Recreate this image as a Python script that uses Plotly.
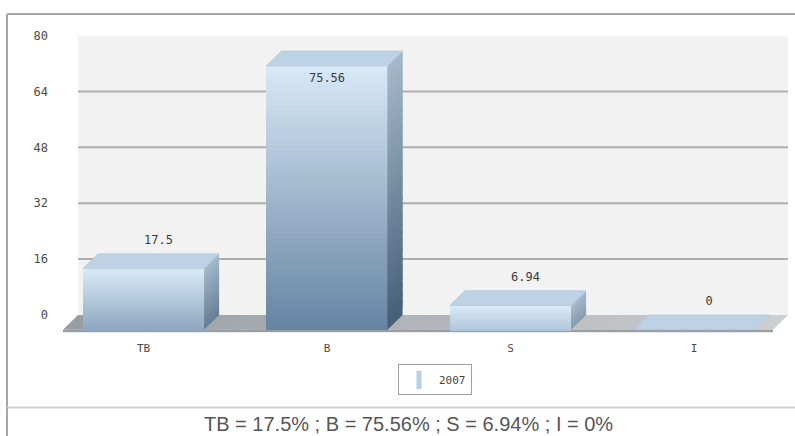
import math
import plotly.graph_objects as go

# ---------------- data ----------------
categories = ["TB", "B", "S", "I"]
values_2007 = [17.5, 75.56, 6.94, 0]
y_ticks = [0, 16, 32, 48, 64, 80]
series_name = "2007"
caption = "TB = 17.5% ; B = 75.56% ; S = 6.94% ; I = 0%"

# ---------------- geometry / style ----------------
W, H = 795, 436
CAT_PX = 183.5          # px between categories
CAT0_PX = 143.5         # px of first category (front face centre)
UNIT_PX = 3.55          # px per value unit
ZERO_PX = 313           # px of value 0 on back plane
DEPTH_PX = 15
DX = DEPTH_PX / CAT_PX
DY = DEPTH_PX / UNIT_PX
BAR_W = 0.66
X_LEFT_PX = 60
Y_TOP_PX = 29
Y_BOT_PX = 331
FLOOR_L = -0.357
FLOOR_R = 3.512
FLOOR_T = 0.7
N_SEG = 60
N_SIDE = 30
OVL = 1.8

MONO = "DejaVu Sans Mono"
TXT = "#4a4a4a"

FRONT_TOP = (216, 233, 247)
FRONT_DARK = (100, 130, 160)
SIDE_TOP = (165, 185, 203)
SIDE_DARK = (68, 92, 118)
TOP_FACE = "#bdd2e5"


def mix(c1, c2, t):
    return "rgb(%d,%d,%d)" % tuple(round(a + (b - a) * t) for a, b in zip(c1, c2))


x_range = [(X_LEFT_PX - CAT0_PX) / CAT_PX, (W - CAT0_PX) / CAT_PX]
y_range = [(ZERO_PX - Y_BOT_PX) / UNIT_PX, y_ticks[-1]]

fig = go.Figure()
xs = list(range(len(categories)))

# darkness at bottom of each bar depends on its pixel height
bottom_f = [1 - math.exp(-(v * UNIT_PX + 0.1) / 60) for v in values_2007]

# front faces (vertical gradient via stacked, overlapping segments)
for k in range(N_SEG):
    t = 1 - (k + 0.5) / N_SEG
    fig.add_trace(go.Bar(
        x=xs,
        base=[-DY + v * k / N_SEG for v in values_2007],
        y=[min(v / N_SEG * OVL, v * (N_SEG - k) / N_SEG) for v in values_2007],
        width=BAR_W,
        marker=dict(color=[mix(FRONT_TOP, FRONT_DARK, t * f) for f in bottom_f],
                    line=dict(width=0)),
        showlegend=False, hoverinfo="skip",
    ))

# side faces
for i, v in enumerate(values_2007):
    xr = i + BAR_W / 2
    for k in range(N_SIDE):
        b0 = -DY + v * k / N_SIDE
        b1 = min(-DY + v * (k + OVL) / N_SIDE, v - DY)
        t = 1 - (k + 0.5) / N_SIDE
        col = mix(SIDE_TOP, SIDE_DARK, t * bottom_f[i])
        fig.add_trace(go.Scatter(
            x=[xr, xr + DX, xr + DX, xr, xr],
            y=[b0, b0 + DY, b1 + DY, b1, b0],
            mode="lines", fill="toself", fillcolor=col,
            line=dict(width=0, color=col),
            showlegend=False, hoverinfo="skip",
        ))

# top faces
for i, v in enumerate(values_2007):
    xl, xr = i - BAR_W / 2, i + BAR_W / 2
    fig.add_trace(go.Scatter(
        x=[xl, xr, xr + DX, xl + DX, xl],
        y=[v - DY, v - DY, v, v, v - DY],
        mode="lines", fill="toself", fillcolor=TOP_FACE,
        line=dict(width=0.6, color="#a9bfd2"),
        showlegend=False, hoverinfo="skip",
    ))

# value labels
lx, ly = [], []
for i, v in enumerate(values_2007):
    if v + 3.6 + 3 > y_ticks[-1]:
        lx.append(i)
        ly.append(v - DY - 3.9)
    else:
        lx.append(i + DX)
        ly.append(v + 3.6)
fig.add_trace(go.Scatter(
    x=lx, y=ly, mode="text",
    text=[("%g" % v) for v in values_2007],
    textfont=dict(family=MONO, size=12, color="#3c3c3c"),
    showlegend=False, hoverinfo="skip",
))

# legend entry
fig.add_trace(go.Scatter(
    x=[None], y=[None], mode="markers", name=series_name,
    marker=dict(symbol="line-ns", size=13, color="#b5d0e8",
                line=dict(width=5, color="#b5d0e8")),
))

# ---------------- shapes ----------------
shapes = []
# plot background (back wall)
shapes.append(dict(type="rect", xref="x", yref="y", x0=FLOOR_L, x1=FLOOR_R,
                   y0=0, y1=y_ticks[-1], fillcolor="#f2f2f2",
                   line=dict(width=0), layer="below"))
# gridlines
for t in y_ticks[1:-1]:
    shapes.append(dict(type="line", xref="x", yref="y", x0=FLOOR_L, x1=FLOOR_R,
                       y0=t, y1=t, line=dict(color="#aeaeae", width=2),
                       layer="below"))
# floor (horizontal gradient)
M = 30
FL_DARK = (150, 156, 162)
FL_LIGHT = (205, 207, 209)
for k in range(M):
    a = FLOOR_L + (FLOOR_R - FLOOR_L) * k / M
    b = min(FLOOR_L + (FLOOR_R - FLOOR_L) * (k + 1.5) / M, FLOOR_R)
    col = mix(FL_DARK, FL_LIGHT, (k + 0.5) / M)
    shapes.append(dict(type="path", xref="x", yref="y",
                       path="M%f,%f L%f,%f L%f,%f L%f,%f Z" % (
                           a - DX, -DY, b - DX, -DY, b, 0, a, 0),
                       fillcolor=col, line=dict(width=0), layer="below"))
# floor front edge
shapes.append(dict(type="rect", xref="x", yref="y", x0=FLOOR_L - DX,
                   x1=FLOOR_R - DX, y0=-DY - FLOOR_T, y1=-DY,
                   fillcolor="#9a9ea3", line=dict(width=0), layer="below"))

# frame lines
shapes.append(dict(type="line", xref="paper", yref="paper", x0=7 / W, x1=1,
                   y0=1 - 7 / H, y1=1 - 7 / H, line=dict(color="#a8a8a8", width=2)))
shapes.append(dict(type="line", xref="paper", yref="paper", x0=7 / W, x1=7 / W,
                   y0=0, y1=1 - 7 / H, line=dict(color="#a8a8a8", width=2)))
shapes.append(dict(type="line", xref="paper", yref="paper", x0=7 / W, x1=1,
                   y0=1 - 407 / H, y1=1 - 407 / H, line=dict(color="#d0d0d0", width=2)))

fig.update_layout(
    width=W, height=H, autosize=False,
    margin=dict(l=0, r=0, t=0, b=0, pad=0),
    paper_bgcolor="white", plot_bgcolor="rgba(0,0,0,0)",
    barmode="overlay", bargap=0,
    shapes=shapes,
    showlegend=True,
    legend=dict(x=435 / W, y=1 - 379 / H, xanchor="center", yanchor="middle",
                bgcolor="white", bordercolor="#a0a0a0", borderwidth=1,
                font=dict(family=MONO, size=11, color="#444"),
                itemwidth=30, tracegroupgap=0),
    annotations=[dict(text=caption, x=408.5 / W, y=1 - 424 / H, xref="paper",
                      yref="paper", xanchor="center", yanchor="middle",
                      showarrow=False,
                      font=dict(family="Liberation Sans", size=20, color="#555"))],
    xaxis=dict(domain=[X_LEFT_PX / W, 1], range=x_range, tickvals=xs,
               ticktext=categories, showgrid=False, zeroline=False,
               showline=False, ticks="", ticklabelstandoff=7,
               tickfont=dict(family=MONO, size=11, color=TXT), fixedrange=True),
    yaxis=dict(domain=[1 - Y_BOT_PX / H, 1 - Y_TOP_PX / H], range=y_range,
               tickvals=y_ticks, showgrid=False, zeroline=False,
               showline=False, ticks="", ticklabelstandoff=11,
               tickfont=dict(family=MONO, size=12, color=TXT), fixedrange=True),
)

fig.write_html("out.html")
